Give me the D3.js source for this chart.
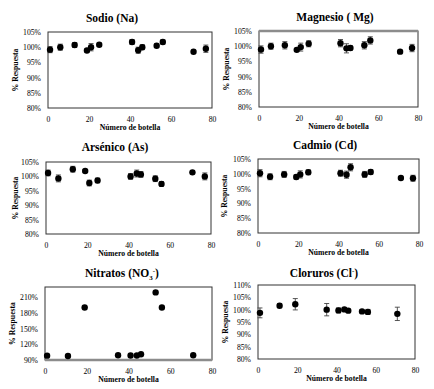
<!DOCTYPE html>
<html>
<head>
<meta charset="utf-8">
<style>
  body { margin: 0; background: #fff; }
  svg text { font-family: "Liberation Serif", "Times New Roman", serif; fill: #000; }
</style>
</head>
<body>
<svg width="434" height="389"></svg>
<script src="https://d3js.org/d3.v7.min.js"></script>
<script>
// bottles measured for cations
const bottles = [1, 6, 13, 19, 21, 25, 41, 44, 46, 53, 56, 71, 77];
const sodio       = [99.2, 100.0, 100.7, 98.9, 100.0, 100.8, 101.7, 99.0, 100.0, 100.5, 101.7, 98.5, 99.5];
const sodioErr    = [1.0, 1.0, 0.8, 0.5, 1.2, 0.5, 0.8, 1.0, 0.8, 0.6, 0.7, 0.3, 1.2];
const magnesio    = [98.9, 100.0, 100.3, 98.8, 99.7, 100.8, 101.0, 99.3, 99.4, 100.3, 101.9, 98.2, 99.4];
const magnesioErr = [1.2, 1.0, 1.2, 0.5, 1.3, 1.0, 1.2, 1.5, 0.7, 1.2, 1.2, 0.5, 1.2];
const arsenico    = [101.2, 99.3, 102.5, 101.9, 97.7, 98.6, 100.0, 101.0, 100.7, 99.2, 97.4, 101.4, 100.0];
const arsenicoErr = [1.0, 1.2, 1.0, 0.5, 1.0, 0.8, 1.0, 1.2, 1.0, 1.0, 0.8, 0.5, 1.2];
const cadmio      = [100.2, 99.0, 99.8, 98.9, 99.8, 100.5, 100.2, 99.7, 102.2, 99.8, 100.6, 98.6, 98.5];
const cadmioErr   = [1.2, 1.0, 1.0, 0.7, 1.2, 0.8, 1.0, 1.2, 1.2, 1.0, 0.8, 0.4, 1.0];
// bottles measured for anions
const bottlesAn   = [1, 11, 19, 35, 41, 44, 46, 53, 56, 71];
const nitratos    = [98.3, 97.7, 190.7, 99.0, 98.7, 98.7, 101.0, 219.6, 190.7, 99.0];
const nitratosErr = [0.5, 0.5, 0.8, 0.5, 0.5, 0.5, 0.8, 0.8, 0.8, 0.5];
const cloruros    = [98.7, 101.6, 102.2, 100.0, 99.7, 100.1, 99.6, 99.3, 99.1, 98.3];
const clorurosErr = [2.0, 0.8, 2.3, 2.5, 1.0, 0.5, 0.3, 0.5, 1.0, 2.7];

const xTicks   = [0, 20, 40, 60, 80];
const pctTicks = [80, 85, 90, 95, 100, 105];
const no3Ticks = [90, 120, 150, 180, 210];
const clTicks  = [80, 85, 90, 95, 100, 105, 110];

const FONT = "'Liberation Serif', 'Times New Roman', serif";
const svg = d3.select("svg");

const panels = [
  {title: ["Sodio (Na)"], x: bottles, y: sodio, e: sodioErr, ticks: pctTicks, dom: [80, 105],
   box: [48, 212, 32, 108], tx: 112, ty: 22, ytx: 15},
  {title: ["Magnesio ( Mg)"], x: bottles, y: magnesio, e: magnesioErr, ticks: pctTicks, dom: [80, 105],
   box: [259, 418, 31, 107], tx: 335, ty: 21, ytx: 226, grayTop: true},
  {title: ["Arsénico (As)"], x: bottles, y: arsenico, e: arsenicoErr, ticks: pctTicks, dom: [80, 105],
   box: [46, 211, 162, 234], tx: 115, ty: 151, ytx: 15},
  {title: ["Cadmio (Cd)"], x: bottles, y: cadmio, e: cadmioErr, ticks: pctTicks, dom: [80, 105],
   box: [258, 419, 159, 233], tx: 325, ty: 149, ytx: 224},
  {title: ["Nitratos (NO", "3", "-", ")"], x: bottlesAn, y: nitratos, e: nitratosErr, ticks: no3Ticks, dom: [90, 230],
   box: [45, 212, 287, 360], tx: 122, ty: 277, ytx: 12, grayBottom: true},
  {title: ["Cloruros (Cl", null, "-", ")"], x: bottlesAn, y: cloruros, e: clorurosErr, ticks: clTicks, dom: [80, 110],
   box: [258, 415, 285, 359], tx: 324, ty: 277, ytx: 225}
];

panels.forEach(p => {
  const [x0, x1, y0, y1] = p.box;
  const xs = d3.scaleLinear().domain([0, 80]).range([x0, x1]);
  const ys = d3.scaleLinear().domain(p.dom).range([y1, y0]);
  const g = svg.append("g").attr("font-family", FONT);

  // plot area border
  g.append("rect")
    .attr("x", x0).attr("y", y0).attr("width", x1 - x0).attr("height", y1 - y0)
    .attr("fill", "none").attr("stroke", "#333").attr("stroke-width", 1);
  if (p.grayTop)
    g.append("line").attr("x1", x0).attr("x2", x1).attr("y1", y0).attr("y2", y0)
      .attr("stroke", "#8c8c8c").attr("stroke-width", 2.5);
  if (p.grayBottom)
    g.append("line").attr("x1", x0).attr("x2", x1).attr("y1", y1).attr("y2", y1)
      .attr("stroke", "#8c8c8c").attr("stroke-width", 2.5);

  // axes (labels only)
  const xa = g.append("g").attr("transform", `translate(0,${y1})`)
    .call(d3.axisBottom(xs).tickValues(xTicks).tickSize(0).tickPadding(9));
  xa.attr("font-family", FONT);
  xa.select(".domain").remove();
  xa.selectAll("text").attr("font-size", 7.7);

  const ya = g.append("g").attr("transform", `translate(${x0},0)`)
    .call(d3.axisLeft(ys).tickValues(p.ticks).tickSize(0).tickPadding(7).tickFormat(d => d + "%"));
  ya.attr("font-family", FONT);
  ya.select(".domain").remove();
  ya.selectAll("text").attr("font-size", 7.7);

  // titles
  const t = g.append("text").attr("x", p.tx).attr("y", p.ty)
    .attr("text-anchor", "middle").attr("font-size", 11.5).attr("font-weight", "bold");
  t.append("tspan").text(p.title[0]);
  if (p.title.length > 1) {
    if (p.title[1]) t.append("tspan").attr("font-size", 7).attr("dy", 2.5).text(p.title[1]);
    t.append("tspan").attr("font-size", 7).attr("dy", p.title[1] ? -7 : -4).text(p.title[2]);
    t.append("tspan").attr("dy", p.title[1] ? 4.5 : 4).text(p.title[3]);
  }
  g.append("text").attr("x", (x0 + x1) / 2).attr("y", y1 + 22)
    .attr("text-anchor", "middle").attr("font-size", 7.7).attr("font-weight", "bold")
    .text("Número de botella");
  g.append("text").attr("transform", `translate(${p.ytx},${(y0 + y1) / 2}) rotate(-90)`)
    .attr("text-anchor", "middle").attr("dy", "0.35em").attr("font-size", 7.7).attr("font-weight", "bold")
    .text("% Respuesta");

  const pts = p.x.map((b, i) => ({b, v: p.y[i], e: p.e[i]}));

  // error bars
  const eb = g.selectAll(".eb").data(pts).enter().append("g").attr("stroke", "#444").attr("stroke-width", 0.9);
  eb.append("line").attr("x1", d => xs(d.b)).attr("x2", d => xs(d.b))
    .attr("y1", d => ys(d.v - d.e)).attr("y2", d => ys(d.v + d.e));
  eb.append("line").attr("x1", d => xs(d.b) - 2.5).attr("x2", d => xs(d.b) + 2.5)
    .attr("y1", d => ys(d.v + d.e)).attr("y2", d => ys(d.v + d.e));
  eb.append("line").attr("x1", d => xs(d.b) - 2.5).attr("x2", d => xs(d.b) + 2.5)
    .attr("y1", d => ys(d.v - d.e)).attr("y2", d => ys(d.v - d.e));

  g.selectAll(".pt").data(pts).enter().append("circle")
    .attr("cx", d => xs(d.b)).attr("cy", d => ys(d.v)).attr("r", 3.2).attr("fill", "#000");
});
</script>
</body>
</html>
